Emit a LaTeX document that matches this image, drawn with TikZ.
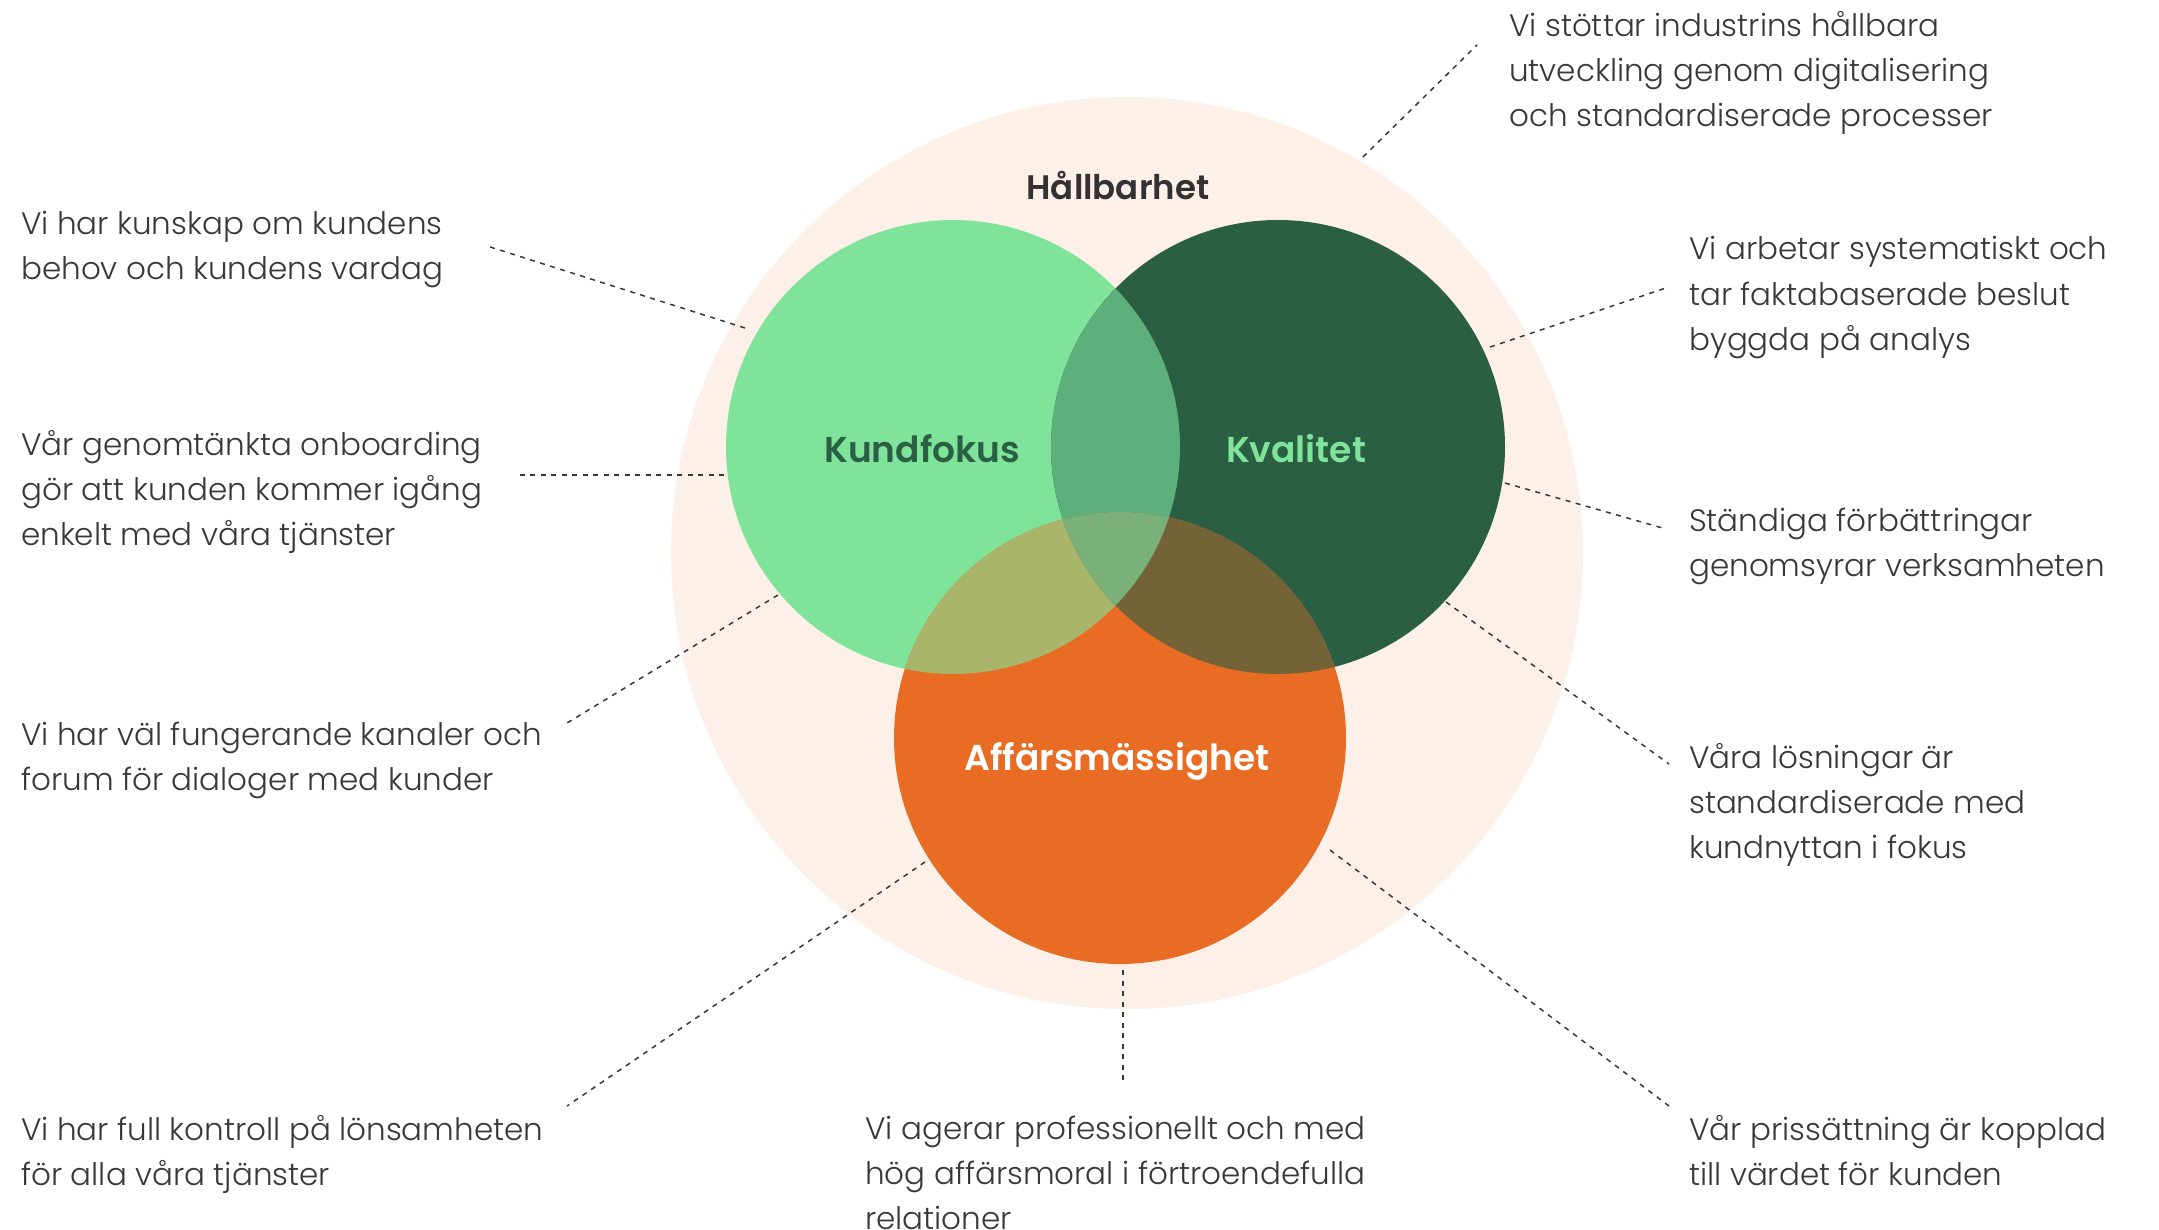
\documentclass[tikz,border=0pt]{standalone}
\usepackage{fontspec}
\setmainfont{Poppins}[UprightFont=* Light, BoldFont=* SemiBold]
\definecolor{bgpeach}{HTML}{FDF0E9}
\definecolor{lgreen}{HTML}{7FE49A}
\definecolor{dgreen}{HTML}{2A5F44}
\definecolor{orng}{HTML}{E86C23}
\definecolor{lgdg}{HTML}{5DB07B}
\definecolor{lgor}{HTML}{AAB56C}
\definecolor{dgor}{HTML}{746337}
\definecolor{tri}{HTML}{7AB17A}
\definecolor{txt}{HTML}{383838}
\tikzset{
  desc/.style={font=\fontsize{31}{45}\selectfont, text=txt, align=left, anchor=base west, inner sep=0pt},
  lead/.style={draw=txt, line width=1.5pt, dash pattern=on 5pt off 5.5pt},
  biglabel/.style={font=\fontsize{36}{42}\selectfont\bfseries, inner sep=0pt}
}
\begin{document}
\begin{tikzpicture}[x=1pt,y=-1pt]
\useasboundingbox (0,0) rectangle (2159,1230);
% circles
\coordinate (cB) at (1127,553);
\coordinate (cK) at (953,447);
\coordinate (cQ) at (1278,447);
\coordinate (cA) at (1120,738);
\fill[bgpeach] (cB) circle[radius=456];
\fill[lgreen] (cK) circle[radius=227];
\fill[dgreen] (cQ) circle[radius=227];
\fill[orng] (cA) circle[radius=226];
\begin{scope}
  \clip (cK) circle[radius=227];
  \fill[lgdg] (cQ) circle[radius=227];
  \fill[lgor] (cA) circle[radius=226];
\end{scope}
\begin{scope}
  \clip (cQ) circle[radius=227];
  \fill[dgor] (cA) circle[radius=226];
\end{scope}
\begin{scope}
  \clip (cK) circle[radius=227];
  \clip (cQ) circle[radius=227];
  \fill[tri] (cA) circle[radius=226];
\end{scope}
% labels
\node[font=\fontsize{34}{40}\selectfont\bfseries, text=txt!90!black, inner sep=0pt] (hall) at (1118,186) {Hållbarhet};
\node[biglabel, text=dgreen] (kund) at (922,449) {Kundfokus};
\node[biglabel, text=lgreen] (kval) at (1296,449) {Kvalitet};
\node[biglabel, text=white] (aff) at (1117,761) {Affärsmässighet};
% descriptions (anchor = baseline of last line)
\node[desc] (t1) at (1509,127) {Vi stöttar industrins hållbara\\utveckling genom digitalisering\\och standardiserade processer};
\node[desc] (t2) at (1689,350) {Vi arbetar systematiskt och\\tar faktabaserade beslut\\byggda på analys};
\node[desc] (t3) at (1689,576) {Ständiga förbättringar\\genomsyrar verksamheten};
\node[desc] (t4) at (1689,858) {Våra lösningar är\\standardiserade med\\kundnyttan i fokus};
\node[desc] (t5) at (1689,1185) {Vår prissättning är kopplad\\till värdet för kunden};
\node[desc] (t6) at (865,1229) {Vi agerar professionellt och med\\hög affärsmoral i förtroendefulla\\relationer};
\node[desc] (t7) at (21,1185) {Vi har full kontroll på lönsamheten\\för alla våra tjänster};
\node[desc] (t8) at (21,790) {Vi har väl fungerande kanaler och\\forum för dialoger med kunder};
\node[desc] (t9) at (21,545) {Vår genomtänkta onboarding\\gör att kunden kommer igång\\enkelt med våra tjänster};
\node[desc] (t10) at (21,280) {Vi har kunskap om kundens\\behov och kundens vardag};
% leader end points
\coordinate (a1) at (1363,157); \coordinate (b1) at (1477,45);
\coordinate (a2) at (1490,347); \coordinate (b2) at (1666,288);
\coordinate (a3) at (1505,483); \coordinate (b3) at (1666,529);
\coordinate (a4) at (1446,602); \coordinate (b4) at (1669,764);
\coordinate (a5) at (1330,850); \coordinate (b5) at (1669,1106);
\coordinate (a6) at (1123,970); \coordinate (b6) at (1123,1080);
\coordinate (a7) at (925,862);  \coordinate (b7) at (567,1106);
\coordinate (a8) at (778,595);  \coordinate (b8) at (567,723);
\coordinate (a9) at (724,475);  \coordinate (b9) at (519,475);
\coordinate (a10) at (745,328); \coordinate (b10) at (487,246);
\foreach \i in {1,...,10} { \draw[lead] (a\i) -- (b\i); }
\end{tikzpicture}
\end{document}
